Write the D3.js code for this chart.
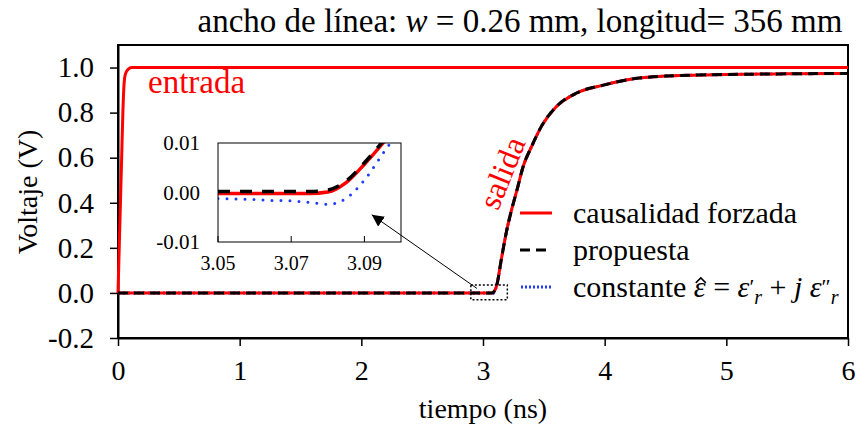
<!DOCTYPE html>
<html>
<head>
<meta charset="utf-8">
<script src="https://cdn.jsdelivr.net/npm/d3@7"></script>
<style>
  body { margin: 0; background: #fff; }
  svg text { font-family: "Liberation Serif", "DejaVu Serif", serif; }
</style>
</head>
<body>
<svg id="chart"></svg>
<script>
// input pulse (entrada)
const tIn = [0, 0.01, 0.02, 0.03, 0.04, 0.05, 0.06, 0.08, 0.11, 0.15, 6];
const vIn = [0, 0.2, 0.4, 0.6, 0.8, 0.93, 0.97, 0.99, 1.0, 1.0, 1.0];

// output (salida), three models
const tOut = [0, 3.0, 3.07, 3.08, 3.09, 3.1, 3.11, 3.15, 3.19, 3.235, 3.28, 3.33, 3.4, 3.48, 3.6, 3.77, 3.99, 4.2, 4.5, 5.0, 5.5, 6.0];
const vForzada   = [0, 0, 0, 0.0001, 0.0057, 0.015, 0.028, 0.147, 0.265, 0.369, 0.458, 0.561, 0.65, 0.739, 0.825, 0.887, 0.922, 0.947, 0.962, 0.969, 0.972, 0.974];
const vPropuesta = [0, 0, 0, 0.0006, 0.0058, 0.015, 0.028, 0.147, 0.265, 0.369, 0.458, 0.561, 0.65, 0.739, 0.825, 0.887, 0.922, 0.947, 0.962, 0.969, 0.972, 0.974];
const vConstante = [0, 0, 0, -0.0024, 0.0025, 0.014, 0.027, 0.146, 0.264, 0.368, 0.457, 0.56, 0.65, 0.739, 0.825, 0.887, 0.922, 0.947, 0.962, 0.969, 0.972, 0.974];

// inset detail around 3.05 - 3.10 ns
const tZoom = [3.05, 3.055, 3.06, 3.065, 3.07, 3.075, 3.08, 3.085, 3.09, 3.095, 3.1];
const zForzada   = [-0.0002, -0.0002, -0.0002, -0.0002, -0.0002, -0.0002, 0.0001, 0.002, 0.0057, 0.0099, 0.0145];
const zPropuesta = [0.0002, 0.0002, 0.0002, 0.0002, 0.0002, 0.0002, 0.0005, 0.0023, 0.006, 0.0103, 0.015];
const zConstante = [-0.0012, -0.0013, -0.0014, -0.0016, -0.0017, -0.002, -0.0024, -0.0012, 0.0025, 0.0078, 0.013];

const xTicks = [0, 1, 2, 3, 4, 5, 6];
const yTicks = [-0.2, 0, 0.2, 0.4, 0.6, 0.8, 1.0];
const xTicksZoom = [3.05, 3.07, 3.09];
const yTicksZoom = [-0.01, 0, 0.01];

const legendLabels = ['causalidad forzada', 'propuesta'];
const colors = { forzada: '#ff0000', propuesta: '#000000', constante: '#1f3cff' };

const width = 858, height = 430;
const svg = d3.select('#chart').attr('width', width).attr('height', height);

const x = d3.scaleLinear().domain([0, 6]).range([118, 848]);
const y = d3.scaleLinear().domain([-0.2, 1.1]).range([338, 45]);

// axes
svg.append('g')
    .attr('transform', 'translate(0,338)')
    .call(d3.axisBottom(x).tickValues(xTicks).tickSize(8).tickSizeOuter(0).tickPadding(14).tickFormat(d => d))
    .call(g => g.attr('font-family', null))
    .call(g => g.select('.domain').attr('stroke-width', 2))
    .call(g => g.selectAll('.tick line').attr('stroke-width', 1.5))
    .call(g => g.selectAll('text').attr('font-size', 28).attr('fill', '#000'));

svg.append('g')
    .attr('transform', 'translate(118,0)')
    .call(d3.axisLeft(y).tickValues(yTicks).tickSize(8).tickSizeOuter(0).tickPadding(16).tickFormat(d => d.toFixed(1)))
    .call(g => g.attr('font-family', null))
    .call(g => g.select('.domain').attr('stroke-width', 2))
    .call(g => g.selectAll('.tick line').attr('stroke-width', 1.5))
    .call(g => g.selectAll('text').attr('font-size', 29).attr('fill', '#000'));

// frame
svg.append('rect')
    .attr('x', 118).attr('y', 45).attr('width', 730).attr('height', 293)
    .attr('fill', 'none').attr('stroke', '#000').attr('stroke-width', 2);

const line = d3.line().x(d => x(d[0])).y(d => y(d[1])).curve(d3.curveMonotoneX);

const plot = svg.append('g');
plot.append('path').datum(d3.zip(tOut, vConstante)).attr('d', line)
    .attr('fill', 'none').attr('stroke', colors.constante).attr('stroke-width', 3).attr('stroke-dasharray', '2,3');
plot.append('path').datum(d3.zip(tIn, vIn)).attr('d', line)
    .attr('fill', 'none').attr('stroke', colors.forzada).attr('stroke-width', 3);
plot.append('path').datum(d3.zip(tOut, vForzada)).attr('d', line)
    .attr('fill', 'none').attr('stroke', colors.forzada).attr('stroke-width', 3);
plot.append('path').datum(d3.zip(tOut, vPropuesta)).attr('d', line)
    .attr('fill', 'none').attr('stroke', colors.propuesta).attr('stroke-width', 3).attr('stroke-dasharray', '10,6');

// labels inside
svg.append('text').attr('x', 148).attr('y', 93).attr('font-size', 33).attr('fill', colors.forzada).text('entrada');
svg.append('text').attr('transform', 'translate(512,177) rotate(-68)').attr('text-anchor', 'middle')
    .attr('font-size', 32).attr('fill', colors.forzada).text('salida');

// zoom box in main plot
svg.append('rect')
    .attr('x', x(2.9)).attr('y', y(0.035))
    .attr('width', x(3.2) - x(2.9)).attr('height', y(-0.03) - y(0.035))
    .attr('fill', 'none').attr('stroke', '#000').attr('stroke-width', 1.5).attr('stroke-dasharray', '2,2');

// inset
const xi = d3.scaleLinear().domain([3.05, 3.10]).range([218, 401]);
const yi = d3.scaleLinear().domain([-0.01, 0.01]).range([242, 143]);

const inset = svg.append('g');
inset.append('rect').attr('x', 218).attr('y', 143).attr('width', 183).attr('height', 99)
    .attr('fill', '#fff');
svg.append('defs').append('clipPath').attr('id', 'clipInset')
    .append('rect').attr('x', 218).attr('y', 143).attr('width', 183).attr('height', 99);

const lineZ = d3.line().x(d => xi(d[0])).y(d => yi(d[1])).curve(d3.curveMonotoneX);
const curves = inset.append('g').attr('clip-path', 'url(#clipInset)');
curves.append('path').datum(d3.zip(tZoom, zConstante)).attr('d', lineZ)
    .attr('fill', 'none').attr('stroke', colors.constante).attr('stroke-width', 3)
    .attr('stroke-linecap', 'round').attr('stroke-dasharray', '0,9');
curves.append('path').datum(d3.zip(tZoom, zForzada)).attr('d', lineZ)
    .attr('fill', 'none').attr('stroke', colors.forzada).attr('stroke-width', 3.5);
curves.append('path').datum(d3.zip(tZoom, zPropuesta)).attr('d', lineZ)
    .attr('fill', 'none').attr('stroke', colors.propuesta).attr('stroke-width', 3.5).attr('stroke-dasharray', '12,10');

inset.append('rect').attr('x', 218).attr('y', 143).attr('width', 183).attr('height', 99)
    .attr('fill', 'none').attr('stroke', '#000').attr('stroke-width', 1);

inset.selectAll('.xt').data(xTicksZoom).enter().append('line')
    .attr('x1', d => xi(d)).attr('x2', d => xi(d)).attr('y1', 242).attr('y2', 236)
    .attr('stroke', '#000').attr('stroke-width', 1);
inset.selectAll('.xl').data(xTicksZoom).enter().append('text')
    .attr('x', d => xi(d)).attr('y', 270).attr('text-anchor', 'middle').attr('font-size', 20)
    .text(d => d.toFixed(2));
inset.selectAll('.yl').data(yTicksZoom).enter().append('text')
    .attr('x', 200).attr('y', d => yi(d) + 7).attr('text-anchor', 'end').attr('font-size', 21)
    .text(d => d.toFixed(2));

// arrow from zoom box to inset
svg.append('defs').append('marker').attr('id', 'arrow')
    .attr('viewBox', '0 0 10 10').attr('refX', 10).attr('refY', 5)
    .attr('markerWidth', 12).attr('markerHeight', 12).attr('markerUnits', 'userSpaceOnUse')
    .attr('orient', 'auto')
    .append('path').attr('d', 'M0,0L10,5L0,10z').attr('fill', '#000');
svg.append('line')
    .attr('x1', x(2.95)).attr('y1', y(0.02))
    .attr('x2', xi(3.092)).attr('y2', yi(-0.0045))
    .attr('stroke', '#000').attr('stroke-width', 1).attr('marker-end', 'url(#arrow)');

// legend
const leg = svg.append('g');
const legY = [213, 250, 287];
leg.append('line').attr('x1', 520).attr('x2', 552).attr('y1', legY[0]).attr('y2', legY[0])
    .attr('stroke', colors.forzada).attr('stroke-width', 3);
leg.append('line').attr('x1', 520).attr('x2', 552).attr('y1', legY[1]).attr('y2', legY[1])
    .attr('stroke', colors.propuesta).attr('stroke-width', 3).attr('stroke-dasharray', '10,6');
leg.append('line').attr('x1', 521).attr('x2', 552).attr('y1', legY[2]).attr('y2', legY[2])
    .attr('stroke', colors.constante).attr('stroke-width', 3).attr('stroke-dasharray', '2,2');
leg.append('text').attr('x', 573).attr('y', legY[0] + 10).attr('font-size', 30).text(legendLabels[0]);
leg.append('text').attr('x', 573).attr('y', legY[1] + 10).attr('font-size', 30).text(legendLabels[1]);

// "constante ε̂ = ε'_r + j ε''_r" built from pieces
const t3 = leg.append('text').attr('x', 573).attr('y', legY[2] + 10).attr('font-size', 30);
t3.append('tspan').text('constante ');
const epsHat = t3.append('tspan').attr('font-style', 'italic').text('ε');
t3.append('tspan').text(' = ');
t3.append('tspan').attr('font-style', 'italic').text('ε');
t3.append('tspan').attr('font-size', 22).attr('dy', -3).text('′');
t3.append('tspan').attr('font-style', 'italic').attr('font-size', 20).attr('dy', 10).text('r');
t3.append('tspan').attr('dy', -7).text(' + ');
t3.append('tspan').attr('font-style', 'italic').text('j ε');
t3.append('tspan').attr('font-size', 22).attr('dy', -3).text('″');
t3.append('tspan').attr('font-style', 'italic').attr('font-size', 20).attr('dy', 10).text('r');

// hat over epsilon
const hb = epsHat.node().getBBox();
const hx = hb.x + hb.width / 2 + 1, hy = hb.y + hb.height * 0.3;
leg.append('path')
    .attr('d', `M${hx - 5},${hy + 3}L${hx},${hy - 2}L${hx + 5},${hy + 3}`)
    .attr('fill', 'none').attr('stroke', '#000').attr('stroke-width', 1.5);

// titles
svg.append('text').attr('x', 520).attr('y', 32).attr('text-anchor', 'middle').attr('font-size', 33)
    .call(t => {
        t.append('tspan').text('ancho de línea: ');
        t.append('tspan').attr('font-style', 'italic').text('w');
        t.append('tspan').text(' = 0.26 mm, longitud= 356 mm');
    });
svg.append('text').attr('x', 483).attr('y', 418).attr('text-anchor', 'middle').attr('font-size', 28).text('tiempo (ns)');
svg.append('text').attr('transform', 'translate(37,192) rotate(-90)').attr('text-anchor', 'middle')
    .attr('font-size', 28).text('Voltaje (V)');
</script>
</body>
</html>
